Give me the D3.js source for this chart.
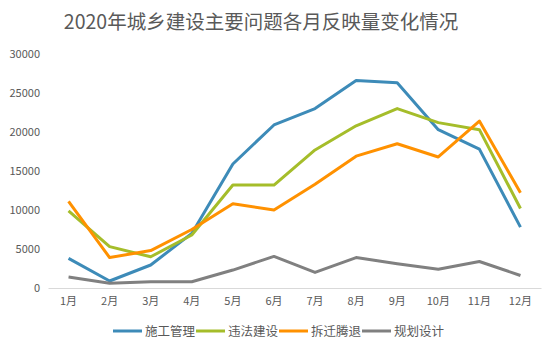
<!DOCTYPE html>
<html>
<head>
<meta charset="utf-8">
<script src="https://cdn.jsdelivr.net/npm/d3@7/dist/d3.min.js"></script>
<style>
body{margin:0;background:#fff;}
text{font-family:"Noto Sans CJK SC","Noto Sans",sans-serif;fill:#595959;}
</style>
</head>
<body>
<script>
var months=['1月','2月','3月','4月','5月','6月','7月','8月','9月','10月','11月','12月'];
var seriesNames=['施工管理','违法建设','拆迁腾退','规划设计'];
var shigong=[3800,900,2950,7000,15900,20900,23000,26600,26300,20300,17800,7800];
var weifa=[9900,5300,4000,6800,13200,13200,17700,20800,23000,21200,20300,10200];
var chaiqian=[11100,3900,4800,7500,10800,10000,13300,16900,18500,16800,21400,12200];
var guihua=[1400,600,800,800,2300,4050,2000,3900,3100,2400,3400,1600];
var yTicks=[0,5000,10000,15000,20000,25000,30000];
var colors=['#3d8bb8','#a5bd2a','#ff9100','#808080'];

var width=556,height=351;
var svg=d3.select('body').append('svg')
.attr('width',width)
.attr('height',height);

var xScale=d3.scaleBand()
.domain(months)
.range([48,541]);

var yScale=d3.scaleLinear()
.domain([0,30000])
.range([288,54]);

svg.append('text')
.attr('x',261)
.attr('y',29)
.attr('text-anchor','middle')
.style('font-size','19.5px')
.text('2020年城乡建设主要问题各月反映量变化情况');

var yAxis=d3.axisLeft(yScale)
.tickValues(yTicks)
.tickFormat(d3.format('d'))
.tickSize(0)
.tickPadding(0);

svg.append('g')
.attr('transform','translate(40,0)')
.call(yAxis)
.call(g=>g.select('.domain').remove())
.selectAll('text')
.style('font-size','11px');

var xAxis=d3.axisBottom(xScale)
.tickSize(0)
.tickPadding(9);

svg.append('g')
.attr('transform','translate(0,288)')
.call(xAxis)
.call(g=>g.select('.domain').attr('stroke','#d9d9d9'))
.selectAll('text')
.style('font-size','11px');

var allSeries=[shigong,weifa,chaiqian,guihua];
var line=d3.line()
.x((d,i)=>xScale(months[i])+xScale.bandwidth()/2)
.y(d=>yScale(d));

svg.selectAll('.series')
.data(allSeries)
.enter()
.append('path')
.attr('class','series')
.attr('d',d=>line(d))
.attr('fill','none')
.attr('stroke',(d,i)=>colors[i])
.attr('stroke-width',3)
.attr('stroke-linejoin','round');

// legend
var legendX=[113,196,279,362];
var legend=svg.selectAll('.legend')
.data(seriesNames)
.enter()
.append('g')
.attr('class','legend')
.attr('transform',(d,i)=>'translate('+legendX[i]+',331)');

legend.append('line')
.attr('x1',0)
.attr('x2',29)
.attr('y1',0)
.attr('y2',0)
.attr('stroke',(d,i)=>colors[i])
.attr('stroke-width',3);

legend.append('text')
.attr('x',32)
.attr('y',4.5)
.style('font-size','12.5px')
.text(d=>d);
</script>
</body>
</html>
